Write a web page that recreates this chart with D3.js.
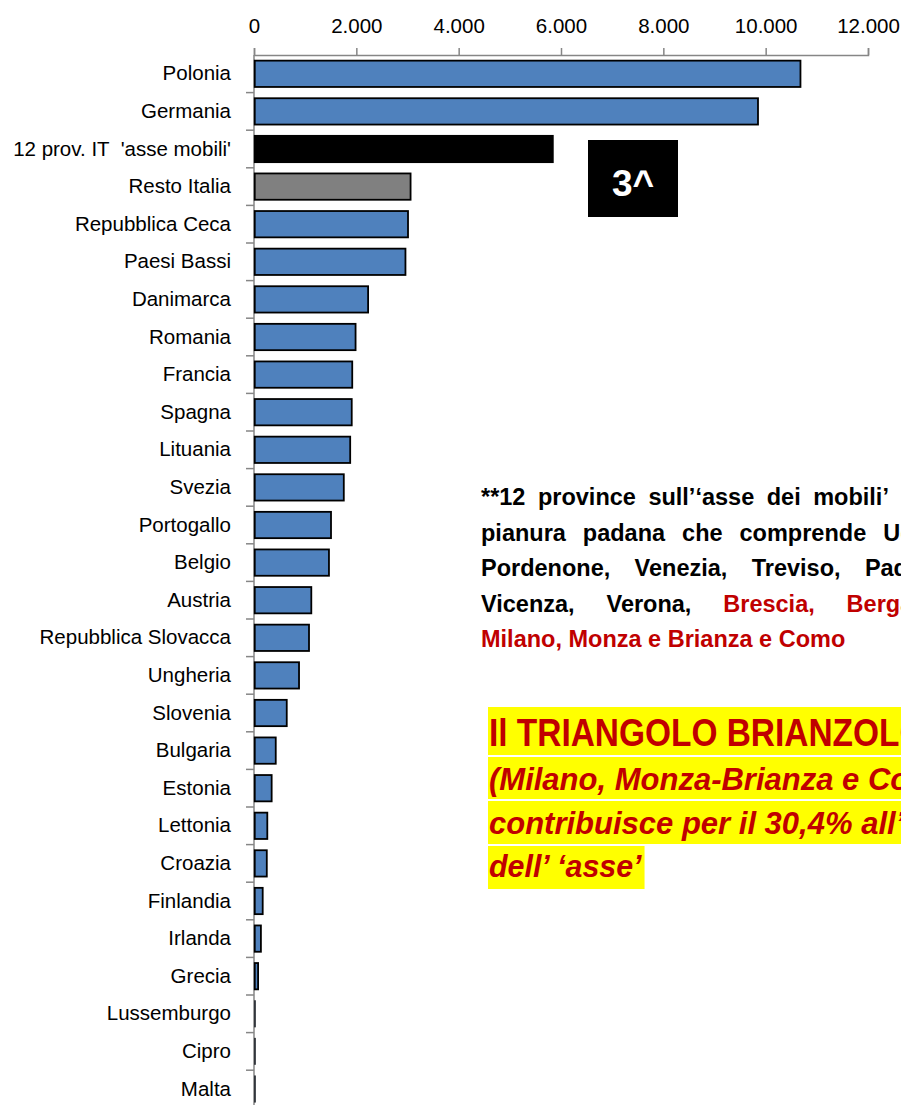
<!DOCTYPE html>
<html><head><meta charset="utf-8">
<script src="https://cdn.jsdelivr.net/npm/d3@7/dist/d3.min.js"></script>
<style>
html,body{margin:0;padding:0;background:#fff;}
svg{display:block;}
text{font-family:"Liberation Sans",Arial,sans-serif;}
</style></head>
<body>
<svg id="chart" width="901" height="1105"></svg>
<script>
const categories = ["Polonia","Germania","12 prov. IT  'asse mobili'","Resto Italia","Repubblica Ceca","Paesi Bassi","Danimarca","Romania","Francia","Spagna","Lituania","Svezia","Portogallo","Belgio","Austria","Repubblica Slovacca","Ungheria","Slovenia","Bulgaria","Estonia","Lettonia","Croazia","Finlandia","Irlanda","Grecia","Lussemburgo","Cipro","Malta"];
const values = [10680,9850,5840,3060,3010,2960,2230,1985,1920,1910,1880,1755,1505,1465,1120,1075,880,640,425,345,260,250,170,135,80,20,8,5];
const barColors = ["#4F81BD","#4F81BD","#000000","#808080","#4F81BD","#4F81BD","#4F81BD","#4F81BD","#4F81BD","#4F81BD","#4F81BD","#4F81BD","#4F81BD","#4F81BD","#4F81BD","#4F81BD","#4F81BD","#4F81BD","#4F81BD","#4F81BD","#4F81BD","#4F81BD","#4F81BD","#4F81BD","#4F81BD","#4F81BD","#4F81BD","#4F81BD"];
const xTicks = [0,2000,4000,6000,8000,10000,12000];
const rankLabel = "3^";
const noteLines = [
  [["**12",0],["province",0],["sull\u2019\u2018asse",0],["dei",0],["mobili\u2019",0],["della",0]],
  [["pianura",0],["padana",0],["che",0],["comprende",0],["Udine,",0]],
  [["Pordenone,",0],["Venezia,",0],["Treviso,",0],["Padova,",0]],
  [["Vicenza,",0],["Verona,",0],["Brescia,",1],["Bergamo,",1]],
  [["Milano, Monza e Brianza e Como",1]]
];
const boxLines = [
  {t:"Il TRIANGOLO BRIANZOLO", italic:false},
  {t:"(Milano, Monza-Brianza e Como)", italic:true},
  {t:"contribuisce per il 30,4% all\u2019export", italic:true},
  {t:"dell\u2019 \u2018asse\u2019", italic:true}
];

(function(){
const svg = d3.select("#chart");
const plotL = 254, plotR = 868, plotT = 55;
const step = 37.6;
const x = d3.scaleLinear().domain([0,12000]).range([plotL,plotR]);
const y = d3.scaleBand().domain(categories).range([plotT, plotT + step*categories.length]).paddingInner(0.3).paddingOuter(0.15);
const loc = d3.formatLocale({decimal:",", thousands:".", grouping:[3], currency:["",""]});
const fmt = loc.format(",.0f");
const axisColor = "#868686";

// x axis (top)
const gx = svg.append("g").attr("transform",`translate(0,${plotT})`)
  .call(d3.axisTop(x).tickValues(xTicks).tickFormat(fmt).tickSize(7).tickSizeOuter(7).tickPadding(15));
gx.select(".domain").attr("stroke",axisColor).attr("stroke-width",1.5);
gx.selectAll(".tick line").attr("stroke",axisColor).attr("stroke-width",1.5);
gx.selectAll(".tick text").attr("font-size","20.5px").attr("fill","#000").attr("font-family","'Liberation Sans',Arial,sans-serif");

// y axis
const gy = svg.append("g").attr("transform",`translate(${plotL},0)`)
  .call(d3.axisLeft(y).tickSize(0).tickPadding(23));
gy.select(".domain").remove();
gy.selectAll(".tick text").attr("font-size","20.5px").attr("fill","#000")
  .attr("font-family","'Liberation Sans',Arial,sans-serif").style("white-space","pre");
svg.append("line").attr("x1",plotL).attr("x2",plotL).attr("y1",plotT).attr("y2",1105)
  .attr("stroke",axisColor).attr("stroke-width",1.5);
svg.append("g").selectAll("line").data(categories.slice(1)).join("line")
  .attr("x1",plotL-8).attr("x2",plotL)
  .attr("y1",d=>y(d)-y.step()*0.15).attr("y2",d=>y(d)-y.step()*0.15)
  .attr("stroke",axisColor).attr("stroke-width",1.5);

// bars
svg.append("g").selectAll("rect").data(categories).join("rect")
  .attr("x",x(0)+0.75)
  .attr("y",d=>y(d))
  .attr("width",(d,i)=>Math.max(0.5,x(values[i])-x(0)-0.75))
  .attr("height",y.bandwidth())
  .attr("fill",(d,i)=>barColors[i])
  .attr("stroke","#000").attr("stroke-width",(d,i)=>values[i]<50?0.8:1.8);

// 3^ box
svg.append("rect").attr("x",588).attr("y",140).attr("width",90).attr("height",77).attr("fill","#000");
svg.append("text").attr("x",633).attr("y",196).attr("text-anchor","middle")
  .attr("font-size","37px").attr("font-weight","bold").attr("fill","#fff").text(rankLabel);

// justified note
const noteL = 481, noteR = 955, noteFs = 23.5, noteY0 = 505, noteDy = 35.6;
noteLines.forEach((words,li)=>{
  const g = svg.append("g");
  const texts = words.map(([w,red])=> g.append("text").attr("y",noteY0+li*noteDy)
      .attr("font-size",noteFs+"px").attr("font-weight","bold")
      .attr("fill",red?"#C00000":"#000").style("white-space","pre").text(w));
  const widths = texts.map(t=>t.node().getComputedTextLength());
  const total = d3.sum(widths);
  const last = li===noteLines.length-1;
  const gap = (!last && words.length>1) ? (noteR-noteL-total)/(words.length-1) : 0;
  let cx = noteL;
  texts.forEach((t,i)=>{ t.attr("x",cx); cx += widths[i]+gap; });
});

// yellow highlighted block
const boxL = 488;
const boxSpecs = [
  {y0:707,h:48,base:746,fs:38,sx:0.88},
  {y0:757,h:42,base:790,fs:31,sx:1},
  {y0:801,h:43,base:833.5,fs:31,sx:1},
  {y0:846,h:43,base:877,fs:31,sx:0.98}
];
boxLines.forEach((ln,i)=>{
  const s = boxSpecs[i];
  const r = svg.append("rect").attr("x",boxL).attr("y",s.y0).attr("height",s.h).attr("fill","#FFFF00");
  const t = svg.append("text").attr("transform",`translate(${boxL+1},${s.base}) scale(${s.sx},1)`)
    .attr("font-size",s.fs+"px").attr("font-weight","bold")
    .attr("font-style",ln.italic?"italic":"normal").attr("fill","#C00000").text(ln.t);
  r.attr("width",t.node().getComputedTextLength()*s.sx+4);
});
})();
</script>
</body></html>
